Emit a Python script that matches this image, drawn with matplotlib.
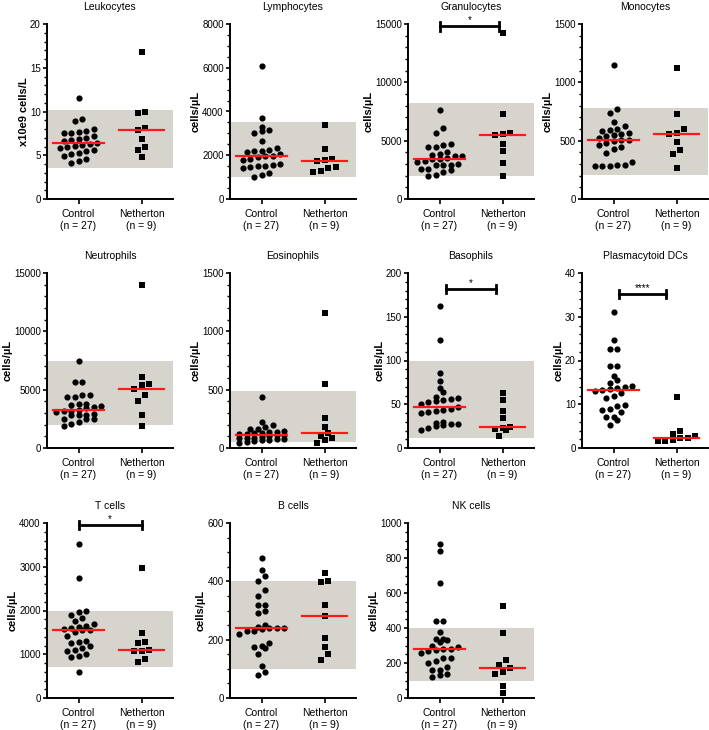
"""
Blood cell counts, control vs Netherton.
"""

import numpy as np
import matplotlib.pyplot as plt
from matplotlib.ticker import MultipleLocator

plt.rcParams['font.family'] = ['Liberation Sans', 'DejaVu Sans']

# panel titles / axis labels
titles = ['Leukocytes', 'Lymphocytes', 'Granulocytes', 'Monocytes',
          'Neutrophils', 'Eosinophils', 'Basophils', 'Plasmacytoid DCs',
          'T cells', 'B cells', 'NK cells']
ylabels = ['x10e9 cells/L'] + ['cells/\u00b5L'] * 10
group_labels = ['Control\n(n = 27)', 'Netherton\n(n = 9)']

# y axis: max, major, minor
ymax = [20, 8000, 15000, 1500, 15000, 1500, 200, 40, 4000, 600, 1000]
ymajor = [5, 2000, 5000, 500, 5000, 500, 50, 10, 1000, 200, 200]
yminor = [1, 500, 1000, 100, 1000, 100, 10, 2, 200, 50, 50]

# reference range (None = no range)
ref_lo = [3.5, 1000, 2000, 210, 2000, 50, 11, None, 700, 100, 100]
ref_hi = [10.2, 3500, 8250, 780, 7500, 490, 100, None, 2000, 400, 400]

# medians (control, netherton)
med_ctrl = [6.4, 1960, 3400, 510, 3250, 115, 47, 13.2, 1550, 240, 280]
med_neth = [7.9, 1750, 5500, 560, 5050, 125, 24, 2.4, 1100, 280, 170]

# significance brackets: panel index -> (height, label, x0, x1)
sig = {2: (14800, '*', 0.0, 0.95),
       6: (182, '*', 0.1, 0.9),
       7: (35.2, '****', 0.08, 0.84),
       8: (3960, '*', 0.0, 1.0)}

ctrl = [
    [11.5, 9.1, 8.9, 8.0, 7.8, 7.7, 7.6, 7.5, 7.2, 7.0, 6.9, 6.8, 6.6, 6.4,
     6.3, 6.2, 6.1, 6.0, 5.8, 5.6, 5.5, 5.3, 5.2, 4.9, 4.6, 4.3, 4.1],
    [6100, 3700, 3300, 3150, 3100, 3000, 2650, 2350, 2250, 2200, 2200, 2150,
     2050, 1960, 1950, 1900, 1850, 1800, 1600, 1550, 1500, 1500, 1450, 1400,
     1200, 1100, 1000],
    [7600, 6100, 5700, 4700, 4600, 4500, 4500, 4000, 3900, 3800, 3700, 3700,
     3500, 3400, 3400, 3300, 3200, 3000, 2900, 2900, 2900, 2600, 2600, 2500,
     2300, 2100, 2000],
    [1150, 775, 740, 660, 630, 600, 595, 580, 570, 560, 550, 540, 520, 510,
     505, 500, 480, 460, 450, 430, 395, 320, 295, 290, 285, 280, 280],
    [7450, 5650, 5650, 4550, 4550, 4400, 4350, 3800, 3750, 3700, 3600, 3550,
     3400, 3250, 3200, 3150, 3100, 2900, 2850, 2800, 2800, 2500, 2450, 2450,
     2250, 2050, 1900],
    [440, 225, 195, 180, 165, 160, 150, 140, 135, 130, 125, 120, 118, 115,
     110, 100, 95, 90, 85, 85, 80, 75, 70, 65, 60, 50, 40],
    [162, 123, 86, 77, 69, 64, 58, 57, 56, 55, 54, 53, 50, 47, 45, 44, 42, 41,
     40, 30, 29, 28, 27, 26, 25, 23, 21],
    [31, 24.8, 22.7, 22.7, 18.7, 18.7, 16.4, 15.6, 14.8, 14.1, 14.0, 13.8,
     13.5, 13.2, 13.0, 12.5, 12.0, 11.5, 9.8, 9.5, 9.0, 8.8, 8.2, 7.2, 7.0,
     6.5, 5.3],
    [3520, 2750, 1990, 1960, 1900, 1820, 1750, 1700, 1650, 1620, 1600, 1580,
     1560, 1550, 1500, 1420, 1300, 1280, 1250, 1200, 1150, 1100, 1080, 1000,
     970, 930, 600],
    [480, 440, 420, 400, 370, 350, 320, 320, 300, 290, 250, 245, 240, 240,
     240, 235, 230, 230, 220, 190, 180, 175, 170, 150, 110, 90, 80],
    [880, 840, 660, 440, 440, 380, 340, 340, 330, 320, 300, 290, 280, 280,
     275, 270, 260, 230, 230, 210, 200, 180, 160, 160, 140, 130, 120],
]

neth = [
    [16.8, 10.0, 9.8, 8.1, 7.9, 6.9, 6.0, 5.6, 4.8],
    [3400, 2300, 1850, 1800, 1750, 1450, 1400, 1280, 1250],
    [14200, 7300, 5700, 5600, 5500, 4700, 4100, 3100, 1950],
    [1120, 730, 600, 570, 560, 490, 420, 385, 265],
    [14000, 6100, 5450, 5400, 5050, 4550, 4000, 2850, 1850],
    [1160, 550, 260, 180, 125, 100, 85, 70, 40],
    [63, 55, 42, 34, 24, 23, 22, 21, 14],
    [11.7, 3.9, 3.2, 2.7, 2.4, 2.2, 1.9, 1.7, 1.6],
    [2970, 1480, 1280, 1250, 1100, 1080, 1080, 900, 820],
    [430, 400, 398, 320, 280, 205, 175, 150, 130],
    [525, 370, 220, 190, 170, 150, 140, 70, 30],
]

XLIM = (-0.5, 1.5)
AX_W_PX = 126.0
AX_H_PX = 175.0


def rows_scatter(vals, ytop, row=6.5, step=7.5, maxn=7):
    """GraphPad-like scatter: points grouped in rows, spread side by side"""
    sx = (XLIM[1] - XLIM[0]) / AX_W_PX
    ypix = np.asarray(vals, float) * AX_H_PX / ytop
    order = np.argsort(ypix)
    offs = np.zeros(len(vals))
    groups = []
    cur = [order[0]]
    for i in order[1:]:
        if ypix[i] - ypix[cur[0]] < row and len(cur) < maxn:
            cur.append(i)
        else:
            groups.append(cur)
            cur = [i]
    groups.append(cur)
    for g in groups:
        n = len(g)
        for j, i in enumerate(g):
            offs[i] = (j - (n - 1) / 2.0) * step * sx
    return offs


lefts = [47, 230, 408, 582]
tops = [24, 273, 523]
FW, FH = 709, 730

fig = plt.figure(figsize=(7.09, 7.30), dpi=100)

for k in range(11):
    r, c = divmod(k, 4)
    ax = fig.add_axes([lefts[c] / FW, 1 - (tops[r] + AX_H_PX) / FH,
                       AX_W_PX / FW, AX_H_PX / FH])
    if ref_lo[k] is not None:
        ax.axhspan(ref_lo[k], ref_hi[k], color='#d7d4cd', lw=0, zorder=0)

    xc = rows_scatter(ctrl[k], ymax[k])
    xn = rows_scatter(neth[k], ymax[k])
    ax.scatter(0 + xc, ctrl[k], s=20, marker='o', color='black', lw=0,
               zorder=3, clip_on=False)
    ax.scatter(1 + xn, neth[k], s=17, marker='s', color='black', lw=0,
               zorder=3, clip_on=False)
    ax.plot([-0.4, 0.4], [med_ctrl[k]] * 2, color='#ff1a1a', lw=1.6, zorder=4)
    ax.plot([0.65, 1.35], [med_neth[k]] * 2, color='#ff1a1a', lw=1.6, zorder=4)

    if k in sig:
        h, lab, x0, x1 = sig[k]
        cap = ymax[k] * 0.024
        ax.plot([x0, x1], [h, h], color='black', lw=2.0, zorder=5,
                clip_on=False)
        ax.plot([x0, x0], [h - cap, h + cap], color='black', lw=2.0,
                clip_on=False)
        ax.plot([x1, x1], [h - cap, h + cap], color='black', lw=2.0,
                clip_on=False)
        ax.text((x0 + x1) / 2, h + ymax[k] * 0.035, lab, ha='center',
                va='center', fontsize=7)

    ax.set_xlim(XLIM)
    ax.set_ylim(0, ymax[k])
    ax.yaxis.set_major_locator(MultipleLocator(ymajor[k]))
    ax.yaxis.set_minor_locator(MultipleLocator(yminor[k]))
    ax.set_xticks([0, 1])
    ax.set_xticklabels(group_labels, fontsize=7.5)
    ax.tick_params(axis='y', labelsize=7, width=1.2, length=3, pad=1.5)
    ax.tick_params(axis='y', which='minor', width=1.0, length=2)
    ax.tick_params(axis='x', width=1.2, length=3.5, pad=4)
    for s in ['top', 'right']:
        ax.spines[s].set_visible(False)
    for s in ['left', 'bottom']:
        ax.spines[s].set_linewidth(1.4)
    ax.set_ylabel(ylabels[k], fontsize=8, fontweight='bold', labelpad=1)
    ax.set_title(titles[k], fontsize=7.5, pad=10)

plt.savefig('out.png', dpi=100)
